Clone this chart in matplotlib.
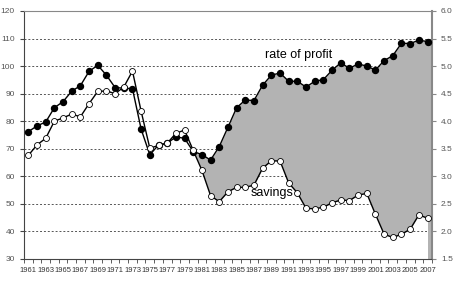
import numpy as np
import matplotlib
matplotlib.use("Agg")
import matplotlib.pyplot as plt

years = list(range(1961, 2008))

# rate of profit (left axis, index)
profit = [76.2, 78.3, 79.7, 84.9, 87.1, 90.9, 92.9, 98.1, 100.3, 96.7,
          92.2, 92.0, 91.8, 77.1, 67.8, 71.4, 72.0, 74.3, 73.8, 69.0,
          67.9, 65.9, 70.8, 77.8, 84.9, 87.7, 87.5, 93.1, 96.7, 97.5,
          94.5, 94.5, 92.4, 94.5, 95.1, 98.5, 101.2, 99.2, 100.8, 100.0,
          98.6, 102.0, 103.8, 108.3, 108.2, 109.4, 108.9]

# savings (right axis)
savings = [3.38, 3.57, 3.69, 4.00, 4.06, 4.13, 4.08, 4.32, 4.54, 4.55,
           4.50, 4.62, 4.91, 4.18, 3.51, 3.56, 3.60, 3.78, 3.84, 3.47,
           3.11, 2.65, 2.54, 2.72, 2.80, 2.80, 2.84, 3.15, 3.28, 3.28,
           2.88, 2.70, 2.42, 2.41, 2.44, 2.52, 2.57, 2.56, 2.66, 2.69,
           2.31, 1.95, 1.89, 1.95, 2.04, 2.30, 2.24]

x = np.array(years)
p = np.array(profit)
s = np.array(savings) * 20  # same scale as left axis

plt.rcParams['font.family'] = ['Liberation Sans', 'DejaVu Sans']

fig = plt.figure(figsize=(4.57, 2.82), dpi=100)
ax = fig.add_axes([0.0525, 0.0816, 0.8925, 0.8794])

ax.fill_between(x, s, p, where=x >= 1980, color='#b3b3b3', interpolate=True, lw=0)
# excel area leaves a grey strip after the last category
ax.fill_between([x[-1], x[-1] + 0.5], 30, p[-1], color='#b3b3b3', lw=0)
ax.plot(x, p, color='black', lw=1, marker='o', ms=4.3, mfc='black', mec='black', zorder=3)
ax.plot(x, s, color='black', lw=1, marker='o', ms=4.3, mfc='white', mec='black', mew=0.6, zorder=3)

ax.set_xlim(1960.5, 2007.5)
ax.set_ylim(30, 120)
ax.set_yticks(range(30, 121, 10))
ax.grid(axis='y', color='#555555', ls=(0, (2, 2)), lw=0.7)
ax.set_axisbelow(True)
ax.set_xticks(years[::2])
ax.set_xticks(np.arange(1960.5, 2008, 1), minor=True)
ax.tick_params(axis='x', which='major', length=0, labelsize=5.5, colors='#333333', pad=6)
ax.tick_params(axis='x', which='minor', length=3, color='#444444', direction='out')
ax.tick_params(axis='y', labelsize=6, colors='#555555', length=3, color='#444444')

for side in ['top', 'right']:
    ax.spines[side].set_color('#888888')
ax.spines['right'].set_linewidth(1.5)
ax.spines['left'].set_color('#444444')
ax.spines['bottom'].set_color('#444444')

ax2 = ax.twinx()
ax2.set_ylim(1.5, 6.0)
ax2.set_yticks(np.arange(1.5, 6.01, 0.5))
ax2.set_yticklabels([f"{v:.1f}" for v in np.arange(1.5, 6.01, 0.5)])
ax2.tick_params(axis='y', labelsize=6, colors='#555555', length=3, color='#888888')
for side in ['top', 'right', 'left', 'bottom']:
    ax2.spines[side].set_visible(False)

ax.text(1992.2, 104.0, 'rate of profit', fontsize=9, ha='center', va='center', zorder=4)
ax.text(1989.1, 53.9, 'savings', fontsize=9, ha='center', va='center', zorder=4)

fig.savefig('out.png', dpi=100)
